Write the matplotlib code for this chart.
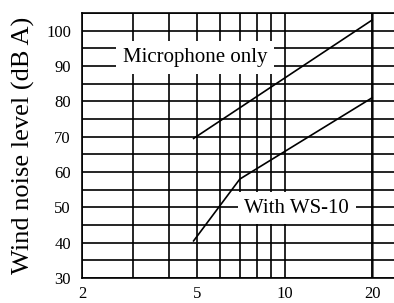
import matplotlib
matplotlib.use("Agg")
import matplotlib.pyplot as plt
from matplotlib.ticker import FixedLocator, NullFormatter

plt.rcParams['font.family'] = ['Liberation Serif', 'DejaVu Serif']

# wind speed (m/s) vs wind noise level (dB A)
mic_x = [4.85, 20]
mic_y = [69.5, 103]
ws_x = [4.85, 7, 20]
ws_y = [40.5, 58, 81]

x_major = [2, 5, 10, 20]
x_minor = [3, 4, 6, 7, 8, 9]
y_major = [30, 40, 50, 60, 70, 80, 90, 100]
y_minor = [35, 45, 55, 65, 75, 85, 95, 105]

fig = plt.figure(figsize=(3.94, 3.03), dpi=100)
ax = fig.add_axes([82 / 394, 25 / 303, 1 - 82 / 394, 265 / 303])

ax.set_xscale('log')
ax.set_xlim(2, 23.8)
ax.set_ylim(30, 105)

ax.xaxis.set_major_locator(FixedLocator(x_major))
ax.xaxis.set_minor_locator(FixedLocator(x_minor))
ax.xaxis.set_minor_formatter(NullFormatter())
ax.set_xticklabels([str(v) for v in x_major])
ax.yaxis.set_major_locator(FixedLocator(y_major))
ax.yaxis.set_minor_locator(FixedLocator(y_minor))

ax.tick_params(which='both', length=0, labelsize=12, colors='black')
ax.tick_params(axis='x', pad=6)
ax.tick_params(axis='y', pad=8)

ax.grid(which='both', color='black', linewidth=1.2)
ax.axvline(20, color='#404040', linewidth=1.8, zorder=1.5)

for side in ['left', 'bottom', 'top']:
    ax.spines[side].set_linewidth(1.2)
ax.spines['right'].set_visible(False)

ax.plot(mic_x, mic_y, color='black', linewidth=1.2, zorder=3)
ax.plot(ws_x, ws_y, color='black', linewidth=1.2, zorder=3)

ax.text(4.9, 92.3, 'Microphone only', fontsize=15, ha='center', va='center',
        zorder=4, bbox=dict(facecolor='white', edgecolor='none', pad=5))
ax.text(11.0, 49.8, 'With WS-10', fontsize=15, ha='center', va='center',
        zorder=4, bbox=dict(facecolor='white', edgecolor='none', pad=5))

ax.set_ylabel('Wind noise level (dB A)', fontsize=19, labelpad=8)

fig.savefig('out.png', dpi=100)
